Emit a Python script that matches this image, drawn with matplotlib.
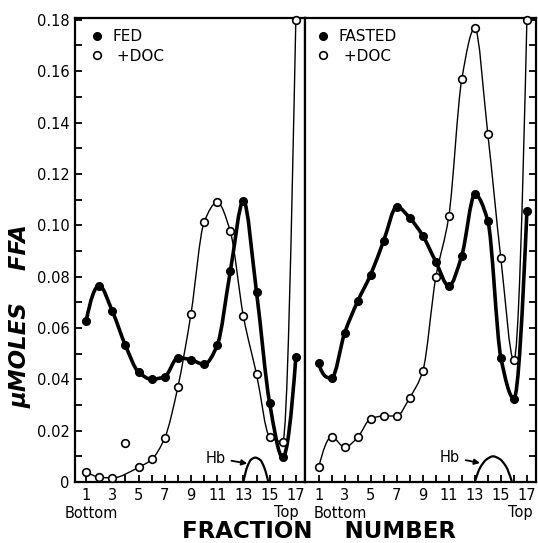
#!/usr/bin/env python3
"""
Recreate FFA-per-fraction chart (FED / FASTED, with and without DOC)
"""

import numpy as np
import matplotlib
matplotlib.use("Agg")
import matplotlib.pyplot as plt
from matplotlib.path import Path
from matplotlib.patches import PathPatch
from matplotlib.lines import Line2D
from matplotlib.ticker import MultipleLocator, FixedLocator, FuncFormatter

# ---- data (umoles FFA per fraction) ----
fractions = np.arange(1, 18)

fed = [0.0626, 0.0765, 0.0665, 0.0532, 0.0428, 0.0400, 0.0410, 0.0484, 0.0476,
       0.0458, 0.0532, 0.0820, 0.1095, 0.0740, 0.0308, 0.0096, 0.0485]
fed_doc = [0.0040, 0.0019, 0.0016, 0.0150, 0.0057, 0.0088, 0.0172, 0.0370, 0.0655,
           0.1012, 0.1089, 0.0976, 0.0645, 0.0420, 0.0176, 0.0157, 0.1800]
fed_doc_skip = [4]  # plotted but not joined by the curve

fasted = [0.0463, 0.0405, 0.0581, 0.0704, 0.0808, 0.0940, 0.1072, 0.1028, 0.0959,
          0.0858, 0.0763, 0.0882, 0.1120, 0.1017, 0.0484, 0.0325, 0.1054]
fasted_doc = [0.0057, 0.0176, 0.0135, 0.0174, 0.0247, 0.0257, 0.0257, 0.0329, 0.0432,
              0.0797, 0.1035, 0.1570, 0.1768, 0.1354, 0.0871, 0.0474, 0.1800]

# haemoglobin hump outline
hb_fed_x = [13.0, 13.3, 13.6, 13.9, 14.3, 14.6, 14.9]
hb_fed_y = [0.0, 0.0060, 0.0088, 0.0095, 0.0085, 0.0055, 0.0]
hb_fasted_x = [13.0, 13.4, 13.9, 14.4, 14.9, 15.4, 15.85]
hb_fasted_y = [0.0, 0.0055, 0.0088, 0.0100, 0.0090, 0.0060, 0.0]

y_ticks_major = np.arange(0, 0.19, 0.02)
x_ticks = np.arange(1, 18)


def pchip_slopes(x, y):
    """Shape preserving (Fritsch-Carlson) slopes, like scipy's PCHIP"""
    h = np.diff(x)
    d = np.diff(y) / h
    n = len(x)
    m = np.zeros(n)
    for k in range(1, n - 1):
        if d[k - 1] * d[k] > 0:
            w1 = 2 * h[k] + h[k - 1]
            w2 = h[k] + 2 * h[k - 1]
            m[k] = (w1 + w2) / (w1 / d[k - 1] + w2 / d[k])

    def edge(h0, h1, d0, d1):
        s = ((2 * h0 + h1) * d0 - h0 * d1) / (h0 + h1)
        if np.sign(s) != np.sign(d0):
            return 0.0
        if np.sign(d0) != np.sign(d1) and abs(s) > abs(3 * d0):
            return 3 * d0
        return s

    if n > 2:
        m[0] = edge(h[0], h[1], d[0], d[1])
        m[-1] = edge(h[-1], h[-2], d[-1], d[-2])
    else:
        m[:] = d[0]
    return m


def smooth_path(x, y):
    """Smooth curve through the points, drawn as a cubic Bezier path"""
    x = np.asarray(x, float)
    y = np.asarray(y, float)
    m = pchip_slopes(x, y)
    verts = [(x[0], y[0])]
    codes = [Path.MOVETO]
    for i in range(len(x) - 1):
        h = x[i + 1] - x[i]
        verts += [(x[i] + h / 3, y[i] + m[i] * h / 3),
                  (x[i + 1] - h / 3, y[i + 1] - m[i + 1] * h / 3),
                  (x[i + 1], y[i + 1])]
        codes += [Path.CURVE4] * 3
    return Path(verts, codes)


def draw_curve(ax, x, y, lw):
    ax.add_patch(PathPatch(smooth_path(x, y), fill=False, lw=lw, color='black',
                           capstyle='round', joinstyle='round'))


def style_axis(ax, xlim):
    ax.set_xlim(xlim)
    ax.set_ylim(0, 0.1807)
    for s in ax.spines.values():
        s.set_linewidth(1.6)
    ax.xaxis.set_major_locator(FixedLocator(x_ticks))
    ax.xaxis.set_major_formatter(FuncFormatter(lambda v, p: f"{int(v)}" if int(v) % 2 else ""))
    ax.yaxis.set_major_locator(FixedLocator(y_ticks_major))
    ax.yaxis.set_minor_locator(MultipleLocator(0.01))
    ax.tick_params(axis='both', which='both', direction='in', length=5, width=1.3,
                   labelsize=10.5, pad=4)


fig = plt.figure(figsize=(5.38, 5.43), dpi=100)
W, H = 538.0, 543.0
ax1 = fig.add_axes([75 / W, 1 - 482 / H, 230 / W, 464 / H])
ax2 = fig.add_axes([305 / W, 1 - 482 / H, 231 / W, 464 / H])

# ---- FED panel ----
style_axis(ax1, (0.15, 17.7))
ax1.yaxis.set_major_formatter(FuncFormatter(lambda v, p: "0" if abs(v) < 1e-9 else f"{v:.2f}"))
ax1.tick_params(axis='y', which='both', right=False)

fed_doc_x = [f for f in fractions if f not in fed_doc_skip]
fed_doc_y = [v for f, v in zip(fractions, fed_doc) if f not in fed_doc_skip]
draw_curve(ax1, fractions, fed, 2.6)
draw_curve(ax1, fed_doc_x, fed_doc_y, 1.0)
ax1.plot(fractions, fed, 'o', color='black', ms=5.5, clip_on=False, zorder=4)
ax1.plot(fractions, fed_doc, 'o', mfc='white', mec='black', mew=1.2, ms=5.5,
         clip_on=False, zorder=4)
draw_curve(ax1, hb_fed_x, hb_fed_y, 1.6)
ax1.annotate('Hb', xy=(13.3, 0.0072), xytext=(10.9, 0.0093), fontsize=10.5,
             ha='center', va='center',
             arrowprops=dict(arrowstyle='-|>', lw=1.3, color='black',
                             shrinkA=2, shrinkB=0, mutation_scale=8))

# ---- FASTED panel ----
style_axis(ax2, (-0.05, 17.7))
ax2.tick_params(axis='y', which='both', left=False, right=True,
                labelleft=False, labelright=False)

draw_curve(ax2, fractions, fasted, 2.6)
draw_curve(ax2, fractions, fasted_doc, 1.0)
ax2.plot(fractions, fasted, 'o', color='black', ms=5.5, clip_on=False, zorder=4)
ax2.plot(fractions, fasted_doc, 'o', mfc='white', mec='black', mew=1.2, ms=5.5,
         clip_on=False, zorder=4)
draw_curve(ax2, hb_fasted_x, hb_fasted_y, 1.6)
ax2.annotate('Hb', xy=(13.4, 0.0074), xytext=(11.1, 0.0097), fontsize=10.5,
             ha='center', va='center',
             arrowprops=dict(arrowstyle='-|>', lw=1.3, color='black',
                             shrinkA=2, shrinkB=0, mutation_scale=8))

# ---- legends ----
filled = Line2D([], [], ls='none', marker='o', color='black', ms=5.5)
hollow = Line2D([], [], ls='none', marker='o', mfc='white', mec='black', mew=1.2, ms=5.5)
for ax, name, anchor in [(ax1, 'FED', (0.075, 0.976)), (ax2, 'FASTED', (0.06, 0.976))]:
    ax.legend([filled, hollow], [name, ' +DOC'], loc='upper left', bbox_to_anchor=anchor,
              frameon=False, handlelength=0.6, handletextpad=0.7, labelspacing=0.3,
              borderpad=0, borderaxespad=0, prop={'size': 11})

# ---- axis captions ----
fig.text(65 / W, 1 - 513 / H, 'Bottom', fontsize=10.5, ha='left', va='center')
fig.text(286 / W, 1 - 513 / H, 'Top', fontsize=10.5, ha='center', va='center')
fig.text(340 / W, 1 - 513 / H, 'Bottom', fontsize=10.5, ha='center', va='center')
fig.text(520 / W, 1 - 513 / H, 'Top', fontsize=10.5, ha='center', va='center')
fig.text(319 / W, 1 - 532 / H, 'FRACTION    NUMBER', fontsize=16.5, fontweight='bold',
         ha='center', va='center')
fig.text(20 / W, 1 - 316 / H, '\u03bcMOLES    FFA', fontsize=16.5, fontweight='bold',
         fontstyle='italic', rotation=90, ha='center', va='center')

fig.savefig('out.png', dpi=100)
